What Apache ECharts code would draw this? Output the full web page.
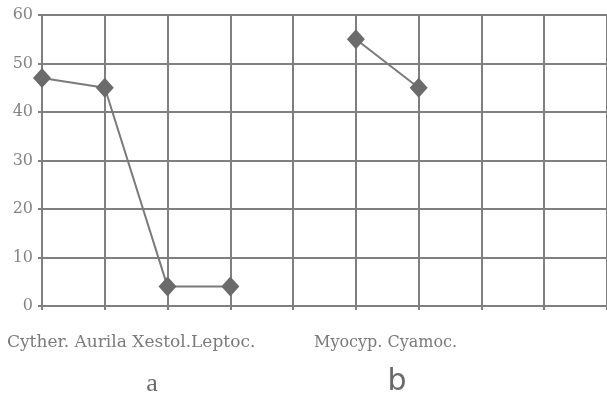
<!DOCTYPE html>
<html>
<head>
<meta charset="utf-8">
<script src="https://cdn.jsdelivr.net/npm/echarts@6/dist/echarts.min.js"></script>
<style>
html,body{margin:0;padding:0;background:#fff;}
#chart{width:607px;height:399px;}
</style>
</head>
<body>
<div id="chart"></div>
<script>
// Data
var categories = ['Cyther.', 'Aurila', 'Xestol.', 'Leptoc.', '', 'Myocyp.', 'Cyamoc.', '', '', ''];
var values = [47, 45, 4, 4, null, 55, 45, null, null, null];
var yTicks = [0, 10, 20, 30, 40, 50, 60];
var groupLabels = ['a', 'b'];
var groupA = ['Cyther.', 'Aurila', 'Xestol.', 'Leptoc.'];
var groupB = ['Myocyp.', 'Cyamoc.'];

var chart = echarts.init(document.getElementById('chart'), null, {renderer: 'canvas'});
var gridColor = '#7f7f7f';
var textColor = '#7a7a7a';

var graphics = [
  {type: 'text', x: 7, y: 343,
   style: {text: groupA[0] + ' ' + groupA[1] + ' ' + groupA[2] + groupA[3], fill: textColor,
           font: '17px "DejaVu Serif"', textAlign: 'left', textVerticalAlign: 'middle'}},
  {type: 'text', x: 314, y: 343,
   style: {text: groupB.join(' '), fill: textColor,
           font: '16px "DejaVu Serif"', textAlign: 'left', textVerticalAlign: 'middle'}},
  {type: 'text', x: 152, y: 384,
   style: {text: groupLabels[0], fill: '#6a6a6a', font: '26px "Liberation Serif"', textAlign: 'center', textVerticalAlign: 'middle'}},
  {type: 'text', x: 397, y: 382,
   style: {text: groupLabels[1], fill: '#6a6a6a', font: '30px "DejaVu Sans"', textAlign: 'center', textVerticalAlign: 'middle'}}
];

chart.setOption({
  animation: false,
  backgroundColor: '#fff',
  grid: {left: 42, top: 15, width: 569, height: 291, containLabel: false},
  xAxis: {
    type: 'category',
    data: categories,
    boundaryGap: false,
    axisLine: {show: true, lineStyle: {color: gridColor, width: 2}},
    axisTick: {show: true, length: 4, lineStyle: {color: gridColor, width: 2}},
    axisLabel: {show: false},
    splitLine: {show: true, lineStyle: {color: gridColor, width: 2}}
  },
  yAxis: {
    type: 'value',
    min: yTicks[0],
    max: yTicks[yTicks.length - 1],
    interval: 10,
    axisLine: {show: true, lineStyle: {color: gridColor, width: 2}},
    axisTick: {show: true, length: 4, lineStyle: {color: gridColor, width: 2}},
    axisLabel: {show: true, color: '#858585', fontFamily: 'DejaVu Serif', fontSize: 16, margin: 9},
    splitLine: {show: true, lineStyle: {color: gridColor, width: 2}}
  },
  series: [{
    type: 'line',
    data: values,
    connectNulls: false,
    symbol: 'diamond',
    symbolSize: [18, 20],
    itemStyle: {color: '#6b6b6b'},
    lineStyle: {color: '#7a7a7a', width: 2}
  }],
  graphic: graphics
});
</script>
</body>
</html>
